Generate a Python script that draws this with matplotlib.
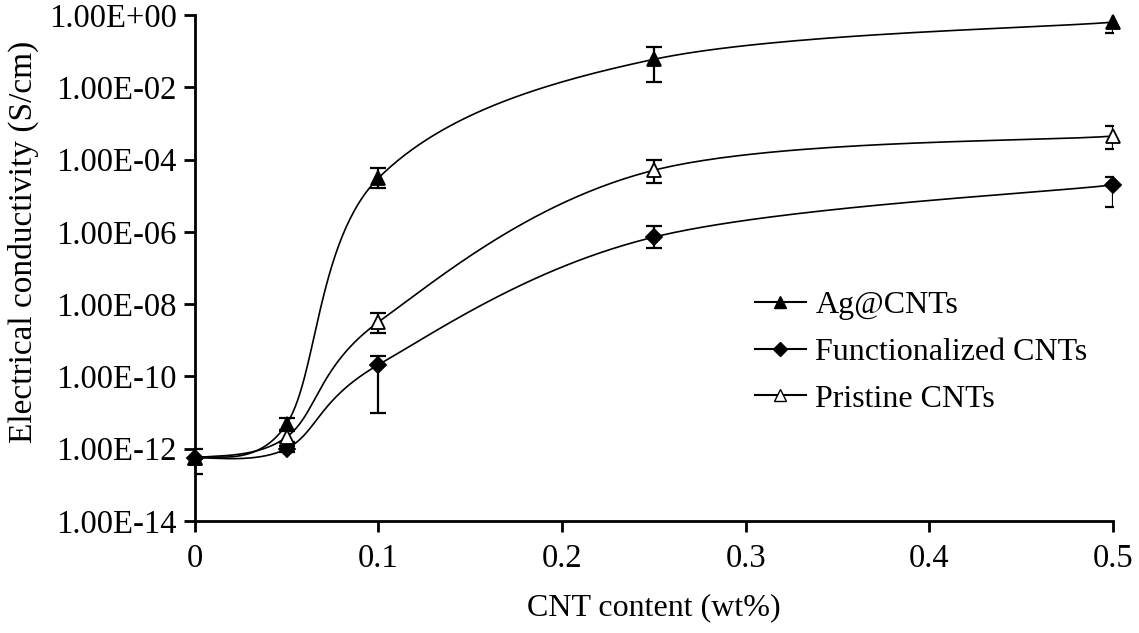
import numpy as np
import matplotlib
matplotlib.use("Agg")
import matplotlib.pyplot as plt
from matplotlib.lines import Line2D
from matplotlib.ticker import FixedLocator, FuncFormatter, NullLocator

plt.rcParams['font.family'] = ['Liberation Serif', 'DejaVu Serif']

# CNT loading (wt%)
cnt = [0, 0.05, 0.1, 0.25, 0.5]

# conductivity (S/cm) with lower / upper error limits
ag = [5.5e-13, 4.8e-12, 3.1e-5, 6.0e-2, 0.64]
ag_lo = [2.0e-13, 3.2e-12, 1.6e-5, 1.4e-2, 0.32]
ag_hi = [1.0e-12, 7.0e-12, 5.9e-5, 1.3e-1, 1.14]

func = [5.5e-13, 1.0e-12, 2.1e-10, 7.2e-7, 2.0e-5]
func_lo = [5.5e-13, 8.0e-13, 9.8e-12, 3.6e-7, 4.9e-6]
func_hi = [5.5e-13, 1.2e-12, 3.7e-10, 1.45e-6, 3.3e-5]

pris = [5.5e-13, 2.1e-12, 3.2e-9, 5.1e-5, 4.5e-4]
pris_lo = [5.5e-13, 1.5e-12, 1.6e-9, 2.2e-5, 1.95e-4]
pris_hi = [5.5e-13, 3.0e-12, 5.7e-9, 1.0e-4, 8.5e-4]

labels = ['Ag@CNTs', 'Functionalized CNTs', 'Pristine CNTs']
yticks = [1e-14, 1e-12, 1e-10, 1e-8, 1e-6, 1e-4, 1e-2, 1e0]
xticks = [0, 0.1, 0.2, 0.3, 0.4, 0.5]


def smooth(xs, ys, n=60):
    # spreadsheet-style smoothed line: Catmull-Rom through the points in (x, log y)
    x = np.asarray(xs, float)
    y = np.log10(ys)
    px = np.concatenate([[x[0]], x, [x[-1]]])
    py = np.concatenate([[y[0]], y, [y[-1]]])
    outx, outy = [], []
    t = np.linspace(0, 1, n)
    for i in range(1, len(px) - 2):
        p0 = np.array([px[i], py[i]])
        p3 = np.array([px[i + 1], py[i + 1]])
        p1 = p0 + (np.array([px[i + 1], py[i + 1]]) - np.array([px[i - 1], py[i - 1]])) / 6
        p2 = p3 - (np.array([px[i + 2], py[i + 2]]) - np.array([px[i], py[i]])) / 6
        b = ((1 - t) ** 3)[:, None] * p0 + (3 * (1 - t) ** 2 * t)[:, None] * p1 \
            + (3 * (1 - t) * t ** 2)[:, None] * p2 + (t ** 3)[:, None] * p3
        outx.extend(b[:, 0])
        outy.extend(b[:, 1])
    return np.array(outx), 10 ** np.array(outy)


fig = plt.figure(figsize=(11.39, 6.33), dpi=100)
ax = fig.add_axes([0.171, 0.177, 0.806, 0.799])

series = [
    (func, func_lo, func_hi, dict(marker='D', markersize=8, mfc='black')),
    (pris, pris_lo, pris_hi, dict(marker='^', markersize=10, mfc='white')),
    (ag, ag_lo, ag_hi, dict(marker='^', markersize=10, mfc='black')),
]
for vals, lo, hi, style in series:
    sx, sy = smooth(cnt, vals)
    ax.plot(sx, sy, color='black', lw=1.2, zorder=2)
    yerr = [np.array(vals) - np.array(lo), np.array(hi) - np.array(vals)]
    ax.errorbar(cnt, vals, yerr=yerr, fmt='none', ecolor='black', elinewidth=1.6,
                capsize=6, capthick=1.6, zorder=3)
    ax.plot(cnt, vals, linestyle='none', color='black', mec='black', mew=1.3,
            zorder=4, clip_on=False, **style)

ax.set_yscale('log')
ax.set_ylim(1e-14, 1e0)
ax.set_xlim(0, 0.5)
ax.yaxis.set_major_locator(FixedLocator(yticks))
ax.yaxis.set_minor_locator(NullLocator())
ax.yaxis.set_major_formatter(FuncFormatter(
    lambda v, p: '{:.2f}E{:+03d}'.format(1.0, int(round(np.log10(v))))))
ax.xaxis.set_major_locator(FixedLocator(xticks))
ax.xaxis.set_major_formatter(FuncFormatter(lambda v, p: '0' if v == 0 else '%g' % v))

for side in ['top', 'right']:
    ax.spines[side].set_visible(False)
for side in ['left', 'bottom']:
    ax.spines[side].set_linewidth(2)
ax.tick_params(axis='both', direction='out', length=8, width=2, labelsize=23.5, pad=5)
ax.tick_params(axis='x', pad=8)

ax.set_xlabel('CNT content (wt%)', fontsize=23, labelpad=14)
ax.set_ylabel('Electrical conductivity (S/cm)', fontsize=24)
ax.yaxis.set_label_coords(-0.170, 0.551)

handles = [
    Line2D([], [], color='black', lw=1.5, marker='^', markersize=9, mfc='black', mec='black'),
    Line2D([], [], color='black', lw=1.5, marker='D', markersize=7, mfc='black', mec='black'),
    Line2D([], [], color='black', lw=1.5, marker='^', markersize=9, mfc='white', mec='black'),
]
ax.legend(handles, labels, loc='center left', bbox_to_anchor=(0.61, 0.334),
          frameon=False, fontsize=23, handlelength=1.6, handletextpad=0.3,
          labelspacing=0.55, borderpad=0, borderaxespad=0)

fig.savefig('out.png', dpi=100)
